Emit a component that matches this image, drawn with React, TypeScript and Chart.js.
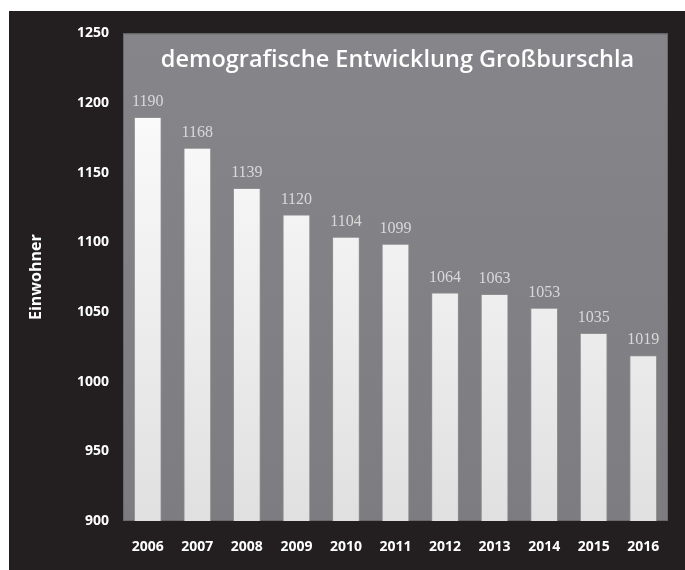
import React, { useEffect, useRef } from "react";
import { Chart, registerables } from "chart.js";

Chart.register(...registerables);

const years: string[] = ["2006", "2007", "2008", "2009", "2010", "2011", "2012", "2013", "2014", "2015", "2016"];
const einwohner: number[] = [1190, 1168, 1139, 1120, 1104, 1099, 1064, 1063, 1053, 1035, 1019];
const yTicks: number[] = [900, 950, 1000, 1050, 1100, 1150, 1200, 1250];
const chartTitle = "demografische Entwicklung Großburschla";
const yTitle = "Einwohner";

const bgPlugin = {
  id: "bgPlugin",
  beforeDraw(chart: any) {
    const { ctx, chartArea, width, height } = chart;
    ctx.save();
    ctx.fillStyle = "#231f20";
    ctx.fillRect(0, 0, width, height);
    const g = ctx.createLinearGradient(0, chartArea.top, 0, chartArea.bottom);
    g.addColorStop(0, "#86868a");
    g.addColorStop(1, "#7c7c81");
    ctx.fillStyle = g;
    ctx.fillRect(chartArea.left, chartArea.top, chartArea.right - chartArea.left, chartArea.bottom - chartArea.top);
    ctx.strokeStyle = "#6a6a6e";
    ctx.lineWidth = 1;
    ctx.strokeRect(chartArea.left + 0.5, chartArea.top + 0.5, chartArea.right - chartArea.left - 1, chartArea.bottom - chartArea.top - 1);
    ctx.restore();
  },
  afterDatasetsDraw(chart: any) {
    const { ctx, chartArea } = chart;
    ctx.save();
    ctx.fillStyle = "#ffffff";
    ctx.font = "600 23.5px 'Open Sans'";
    ctx.textAlign = "center";
    ctx.textBaseline = "middle";
    ctx.fillText(chartTitle, (chartArea.left + chartArea.right) / 2 + 2, chartArea.top + 27);
    const meta = chart.getDatasetMeta(0);
    ctx.fillStyle = "#d9d9d9";
    ctx.font = "16px 'Liberation Serif'";
    meta.data.forEach((bar: any, i: number) => {
      ctx.fillText(String(einwohner[i]), bar.x, bar.y - 15);
    });
    ctx.restore();
  },
};

export default function App() {
  const ref = useRef<HTMLCanvasElement | null>(null);
  useEffect(() => {
    if (!ref.current) return;
    const ctx = ref.current.getContext("2d")!;
    const chart = new Chart(ctx, {
      type: "bar",
      data: {
        labels: years,
        datasets: [
          {
            data: einwohner,
            backgroundColor: (c: any) => {
              const area = c.chart.chartArea;
              if (!area) return "#f4f4f4";
              const g = c.chart.ctx.createLinearGradient(0, area.top, 0, area.bottom);
              g.addColorStop(0, "#ffffff");
              g.addColorStop(1, "#e0e0e0");
              return g;
            },
            borderColor: "rgba(150,150,150,0.7)",
            borderWidth: 1,
            categoryPercentage: 1,
            barPercentage: 0.56,
          },
        ],
      },
      options: {
        responsive: false,
        animation: false,
        layout: { padding: { left: 0, top: 20, right: 17, bottom: 0 } },
        plugins: {
          legend: { display: false },
          tooltip: { enabled: false },
          title: { display: false },
        },
        scales: {
          x: {
            grid: { display: false, drawTicks: false },
            border: { display: false },
            ticks: {
              color: "#ffffff",
              font: { family: "'Open Sans'", size: 14, weight: "bold" },
              padding: 18,
              maxRotation: 0,
            },
            afterFit(scale: any) {
              scale.height = 49;
            },
          },
          y: {
            min: 900,
            max: 1250,
            grid: { display: false, drawTicks: false },
            border: { display: false },
            afterBuildTicks(scale: any) {
              scale.ticks = yTicks.map((v) => ({ value: v }));
            },
            ticks: {
              color: "#ffffff",
              font: { family: "'Open Sans'", size: 14, weight: "bold" },
              padding: 14,
              callback: (v: any) => String(v),
            },
            title: {
              display: true,
              text: yTitle,
              color: "#ffffff",
              font: { family: "'Open Sans'", size: 16, weight: "bold" },
              padding: { top: 18, bottom: 0 },
            },
            afterFit(scale: any) {
              scale.width = 114;
            },
          },
        },
      },
      plugins: [bgPlugin],
    });
    return () => chart.destroy();
  }, []);
  return (
    <div style={{ position: "absolute", left: 9, top: 11, width: 676, height: 559 }}>
      <canvas ref={ref} width={676} height={559} />
    </div>
  );
}
